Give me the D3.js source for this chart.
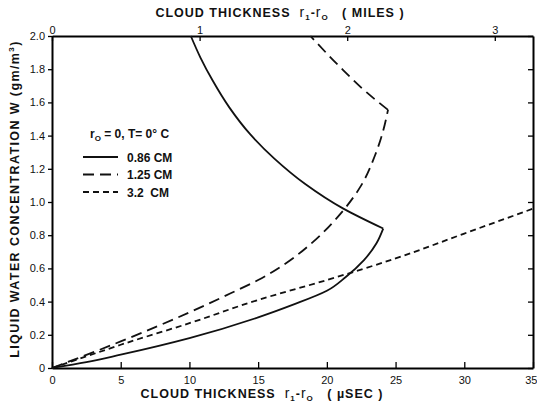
<!DOCTYPE html>
<html>
<head>
<meta charset="utf-8">
<script src="https://cdn.jsdelivr.net/npm/d3@7"></script>
<style>
  body { margin: 0; background: #fff; }
  svg { font-family: "Liberation Sans", Arial, sans-serif; }
  .tick text { font-size: 11px; fill: #111; }
  .lbl { font-size: 12.5px; font-weight: bold; letter-spacing: 1px; fill: #111; }
  .leg { font-size: 12px; font-weight: bold; fill: #111; }
</style>
</head>
<body>
<script>
// series: [cloud thickness (usec), liquid water W (gm/m3)]
const cm086Lower = [[0,0],[2.5,0.035],[5,0.08],[10,0.18],[15,0.305],[17.5,0.38],[20,0.465],[21.4,0.55],[22.7,0.65],[23.6,0.75],[24.1,0.84]];
const cm086Upper = [[24.1,0.84],[21.2,0.96],[18.4,1.11],[16.2,1.26],[14.4,1.41],[12.9,1.57],[11.7,1.73],[10.8,1.87],[10.1,2.0]];
const cm125Lower = [[0,0],[5,0.16],[10,0.335],[13,0.45],[15,0.53],[17,0.63],[19,0.76],[21,0.93],[22.5,1.1],[23.5,1.28],[24.1,1.43],[24.45,1.555]];
const cm125Upper = [[24.45,1.555],[22.9,1.66],[21,1.81],[18.8,2.0]];
const cm32 = [[0,0],[2.5,0.07],[5,0.14],[10,0.27],[15,0.41],[20,0.53],[25,0.66],[30,0.81],[35,0.96]];

const xTicks = [0,5,10,15,20,25,30,35];
const yTicks = [0,0.2,0.4,0.6,0.8,1.0,1.2,1.4,1.6,1.8,2.0];
const mileTicks = [0,1,2,3];
const usecPerMile = 10.74;

const legendItems = [
  {label: "0.86 CM", dash: null},
  {label: "1.25 CM", dash: "11,6"},
  {label: "3.2  CM", dash: "6,4"}
];

const W = 537, H = 403;
const m = {top: 36, right: 4, bottom: 35, left: 52};

const svg = d3.select("body").append("svg").attr("width", W).attr("height", H);

const x = d3.scaleLinear().domain([0,35]).range([m.left, W - m.right]);
const y = d3.scaleLinear().domain([0,2]).range([H - m.bottom, m.top]);
const xm = d3.scaleLinear().domain([0, 35 / usecPerMile]).range([m.left, W - m.right]);

const fmtY = d => d === 0 ? "0" : d3.format(".1f")(d);

// bottom axis
svg.append("g")
  .attr("transform", `translate(0,${y(0)})`)
  .call(d3.axisBottom(x).tickValues(xTicks).tickSizeInner(-6).tickSizeOuter(0).tickPadding(8))
  .call(g => g.select(".domain").attr("stroke-width", 2))
  .call(g => g.selectAll(".tick text").filter(d => d === 35).attr("text-anchor", "end").attr("dx", 4));

// top axis (miles)
svg.append("g")
  .attr("transform", `translate(0,${y(2)})`)
  .call(d3.axisTop(xm).tickValues(mileTicks).tickFormat(d3.format("d")).tickSizeInner(-5).tickSizeOuter(0).tickPadding(2))
  .call(g => g.select(".domain").attr("stroke-width", 2));

// left axis
svg.append("g")
  .attr("transform", `translate(${x(0)},0)`)
  .call(d3.axisLeft(y).tickValues(yTicks).tickFormat(fmtY).tickSizeInner(4).tickSizeOuter(0).tickPadding(3))
  .call(g => g.select(".domain").attr("stroke-width", 2));

// right axis
svg.append("g")
  .attr("transform", `translate(${x(35)},0)`)
  .call(d3.axisRight(y).tickValues(yTicks).tickFormat("").tickSizeInner(-5).tickSizeOuter(0))
  .call(g => g.select(".domain").attr("stroke-width", 2));

svg.selectAll(".tick line").attr("stroke-width", 1.3);

// curves (each branch is monotone in W)
const line = d3.line().x(d => x(d[0])).y(d => y(d[1])).curve(d3.curveMonotoneY);

const series = [
  {data: cm086Lower, dash: null},
  {data: cm086Upper, dash: null},
  {data: cm125Lower, dash: "11,6"},
  {data: cm125Upper, dash: "11,6"},
  {data: cm32, dash: "6,4"}
];

svg.selectAll(".curve")
  .data(series)
  .enter().append("path")
  .attr("class", "curve")
  .attr("d", d => line(d.data))
  .attr("fill", "none")
  .attr("stroke", "#111")
  .attr("stroke-width", 1.8)
  .attr("stroke-dasharray", d => d.dash);

// legend
const lg = svg.append("g");
const lt = lg.append("text").attr("class", "leg").attr("x", 90).attr("y", 138);
lt.append("tspan").text("r");
lt.append("tspan").attr("font-size", 8).attr("dy", 3).text("O");
lt.append("tspan").attr("dy", -3).text(" = 0, T= 0° C");

legendItems.forEach((it, i) => {
  const yy = 157 + i * 17.5;
  lg.append("line")
    .attr("x1", 83).attr("x2", 118).attr("y1", yy).attr("y2", yy)
    .attr("stroke", "#111").attr("stroke-width", 1.8)
    .attr("stroke-dasharray", it.dash);
  lg.append("text").attr("class", "leg").attr("x", 127).attr("y", yy + 4.5)
    .attr("xml:space", "preserve").style("white-space", "pre").text(it.label);
});

// axis titles
function rTitle(g, xx, yy, tail) {
  const t = g.append("text").attr("class", "lbl").attr("x", xx).attr("y", yy).attr("text-anchor", "middle")
    .attr("xml:space", "preserve").style("white-space", "pre");
  t.append("tspan").text("CLOUD THICKNESS  ");
  t.append("tspan").attr("font-size", 14).attr("font-weight", "normal").text("r");
  t.append("tspan").attr("font-size", 8).attr("dy", 3).text("1");
  t.append("tspan").attr("dy", -3).text("-");
  t.append("tspan").attr("font-size", 14).attr("font-weight", "normal").text("r");
  t.append("tspan").attr("font-size", 8).attr("dy", 3).text("O");
  t.append("tspan").attr("dy", -3).text(tail);
}
rTitle(svg, 280, 17, "   ( MILES )");
rTitle(svg, 262, 398, "   ( \u00B5SEC )");

const yl = svg.append("text").attr("class", "lbl")
  .attr("transform", `translate(19,${(y(0) + 30) / 2}) rotate(-90)`)
  .attr("text-anchor", "middle")
  .style("letter-spacing", "1.4px");
yl.append("tspan").text("LIQUID WATER CONCENTRATION W (gm/m");
yl.append("tspan").attr("font-size", 8).attr("dy", -5).text("3");
yl.append("tspan").attr("dy", 5).text(")");
</script>
</body>
</html>
